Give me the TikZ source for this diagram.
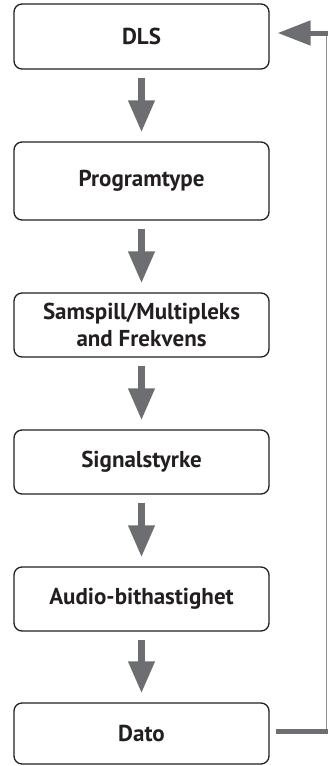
\documentclass[tikz,border=0pt]{standalone}
\usepackage{fontspec}
\setmainfont{PT Sans}
\usetikzlibrary{arrows.meta,calc}
\definecolor{boxline}{HTML}{231F20}
\definecolor{flowgray}{HTML}{6D6E71}
\definecolor{loopgray}{HTML}{8E8E90}
\begin{document}
\begin{tikzpicture}[x=1pt,y=-1pt,
  stage/.style={draw=boxline, line width=1.3pt, rounded corners=8pt,
    minimum width=255pt, align=center, inner sep=0pt,
    font=\fontsize{23}{27}\selectfont\bfseries, text=boxline},
  flow/.style={draw=flowgray, line width=7pt,
    -{Triangle[length=32pt,width=25pt]}, color=flowgray},
  feed/.style={draw=flowgray, line width=5pt},
  loopline/.style={draw=loopgray, line width=1pt}
]
\useasboundingbox (0,0) rectangle (329,766);
\node[stage, minimum height=65pt] (dls)   at (141.5,36.5) {DLS};
\node[stage, minimum height=78pt] (prog)  at (141.5,181)  {Programtype};
\node[stage, minimum height=64pt] (sams)  at (141.5,325)  {Samspill/Multipleks\\and Frekvens};
\node[stage, minimum height=64pt] (sig)   at (141.5,462)  {Signalstyrke};
\node[stage, minimum height=64pt] (audio) at (141.5,599)  {Audio-bithastighet};
\node[stage, minimum height=61pt] (dato)  at (141.5,733.5){Dato};

% downward flow between stages
\foreach \a/\b in {dls/prog, prog/sams, sams/sig, sig/audio, audio/dato}
  \draw[flow, shorten <=8pt, shorten >=9pt] (\a.south) -- (\b.north);

% return path from the last stage back to the first
\coordinate (lowturn) at ($(dato.east)+(57pt,2.5pt)$);
\coordinate (highturn) at ($(dls.east)+(57pt,3.5pt)$);
\draw[loopline] (lowturn) -- (highturn);
\draw[feed] ($(dato.east)+(6pt,2.5pt)$) -- ([xshift=1pt]lowturn);
\draw[feed, -{Triangle[length=33pt,width=24pt]}, color=flowgray]
  ([xshift=1pt]highturn) -- ($(dls.east)+(8pt,3.5pt)$);
\end{tikzpicture}
\end{document}
